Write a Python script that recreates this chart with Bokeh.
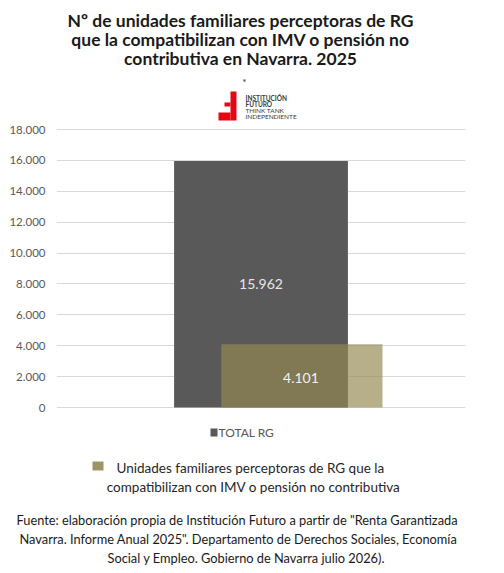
from bokeh.plotting import figure
from bokeh.models import Range1d, FixedTicker, ColumnDataSource, Title
from bokeh.core.properties import value
from bokeh.embed import file_html
from bokeh.resources import INLINE

# ---------------- data ----------------
title_lines = [
    "Nº de unidades familiares perceptoras de RG",
    "que la compatibilizan con IMV o pensión no",
    "contributiva en Navarra. 2025",
]
categories = ["TOTAL RG"]
series_total_name = "TOTAL RG"
series_compat_name = ["Unidades familiares perceptoras de RG que la",
                      "compatibilizan con IMV o pensión no contributiva"]
total_rg = [15962]
compat = [4101]
y_ticks = [0, 2000, 4000, 6000, 8000, 10000, 12000, 14000, 16000, 18000]
y_tick_labels = ["0", "2.000", "4.000", "6.000", "8.000", "10.000",
                 "12.000", "14.000", "16.000", "18.000"]
source_lines = [
    "Fuente: elaboración propia de Institución Futuro a partir de \"Renta Garantizada",
    "Navarra. Informe Anual 2025\". Departamento de Derechos Sociales, Economía",
    "Social y Empleo. Gobierno de Navarra julio 2026).",
]
logo_lines = ["INSTITUCIÓN", "FUTURO", "THINK TANK", "INDEPENDIENTE"]


def fmt(v):
    return f"{v:,}".replace(",", ".")


FONT = "Lato"
GRAY = "#595959"
OLIVE = "#938953"
RED = "#E30613"

# ---------------- layout constants (pixels) ----------------
W, H = 504, 573
FRAME_L, FRAME_R = 56, 465          # plot frame horizontal extent
FRAME_BOTTOM = 509                  # frame spans y 0..509, footnote panel below
Y0_PX, YMAX_PX = 407, 129           # pixel rows of value 0 and 18000
YMAX = 18000
k = (Y0_PX - YMAX_PX) / YMAX        # pixels per unit
y_start = -(FRAME_BOTTOM - Y0_PX) / k
y_end = YMAX + YMAX_PX / k

p = figure(x_range=Range1d(0, len(categories)), y_range=Range1d(y_start, y_end),
           width=W, height=H, x_axis_location=None,
           min_border_left=FRAME_L, min_border_right=W - FRAME_R,
           min_border_top=0, min_border_bottom=H - FRAME_BOTTOM,
           toolbar_location=None, output_backend="svg")
p.outline_line_color = None
p.xgrid.visible = False
p.ygrid.grid_line_color = "#D9D9D9"
p.ygrid.grid_line_width = 1
yax = p.yaxis[0]
yax.ticker = FixedTicker(ticks=y_ticks)
yax.major_label_overrides = {t: l for t, l in zip(y_ticks, y_tick_labels)}
yax.axis_line_color = None
yax.major_tick_line_color = None
yax.minor_tick_line_color = None
yax.major_tick_in = 0
yax.major_tick_out = 0
yax.major_label_standoff = 11
yax.major_label_text_font = FONT
yax.major_label_text_font_size = "11.5px"
yax.major_label_text_color = GRAY
p.ygrid.ticker = yax.ticker

# pixel-space ranges for decorations drawn inside the frame
p.extra_x_ranges = {"px": Range1d(FRAME_L, FRAME_R)}
p.extra_y_ranges = {"px": Range1d(FRAME_BOTTOM, 0)}
PX = dict(x_range_name="px", y_range_name="px")

# ---------------- bars ----------------
xc = [i + 0.5 for i in range(len(categories))]      # category centres
src_total = ColumnDataSource(dict(x=xc, top=total_rg,
                                  mid=[v / 2 for v in total_rg],
                                  lab=[fmt(v) for v in total_rg]))
src_comp = ColumnDataSource(dict(x=[c + 0.10 for c in xc], top=compat,
                                 mid=[v / 2 for v in compat],
                                 lab=[fmt(v) for v in compat]))

p.vbar(x="x", top="top", width=0.425, source=src_total, fill_color=GRAY, line_color=None)
p.vbar(x="x", top="top", width=0.394, source=src_comp,
       fill_color=OLIVE, fill_alpha=0.68, line_color=None)
p.text(x="x", y="mid", text="lab", source=src_total, text_align="center",
       text_baseline="middle", text_font=value(FONT), text_font_size="14px",
       text_color="#E6E6E6")
p.text(x="x", y="mid", text="lab", source=src_comp,
       text_align="center", text_baseline="middle", x_offset=-1, y_offset=2,
       text_font=value(FONT), text_font_size="14px", text_color="#F2F2F2")

# ---------------- title + logo ----------------
p.text(x=[240] * 3, y=[20, 39, 58], text=title_lines, text_align="center",
       text_baseline="middle", text_font=value(FONT), text_font_style="bold",
       text_font_size="17.5px", text_color="#1a1a1a", **PX)
p.text(x=[244], y=[81], text=["*"], text_align="center", text_baseline="middle",
       text_font=value(FONT), text_font_size="10px", text_color="#333333", **PX)
p.quad(left=[230, 224, 218], right=[236, 230, 230], top=[91, 102, 112],
       bottom=[120, 106, 120], fill_color=RED, line_color=None, **PX)
p.text(x=[245] * 4, y=[98, 104, 110, 116], text=logo_lines, text_align="left",
       text_baseline="middle", text_font=value(FONT),
       text_font_style=["bold", "bold", "normal", "normal"],
       text_font_size="6.5px", text_color="#3a3a3a", **PX)

# ---------------- legend ----------------
p.quad(left=[210], right=[217], top=[428], bottom=[436], fill_color=GRAY,
       line_color=None, **PX)
p.text(x=[218], y=[432], text=[series_total_name], text_align="left",
       text_baseline="middle", text_font=value(FONT), text_font_size="12px",
       text_color=GRAY, **PX)
p.quad(left=[92], right=[103], top=[461], bottom=[470], fill_color=OLIVE,
       fill_alpha=0.9, line_color=None, **PX)
p.text(x=[116], y=[467], text=[series_compat_name[0]], text_align="left",
       text_baseline="middle", text_font=value(FONT), text_font_size="13.5px",
       text_color="#262626", **PX)
p.text(x=[253], y=[486], text=[series_compat_name[1]], text_align="center",
       text_baseline="middle", text_font=value(FONT), text_font_size="13.5px",
       text_color="#262626", **PX)

# ---------------- source note (below panel) ----------------
for t, off in zip(source_lines, [-40, -37, 51]):
    try:
        ttl = Title(text=t, align="left", offset=off)
    except Exception:
        ttl = Title(text=t, align="center")
    ttl.text_font = FONT
    ttl.text_font_size = "12.8px"
    ttl.text_font_style = "normal"
    ttl.text_color = "#1a1a1a"
    ttl.standoff = 1
    p.add_layout(ttl, "below")

open("out.html", "w").write(file_html(p, INLINE))
